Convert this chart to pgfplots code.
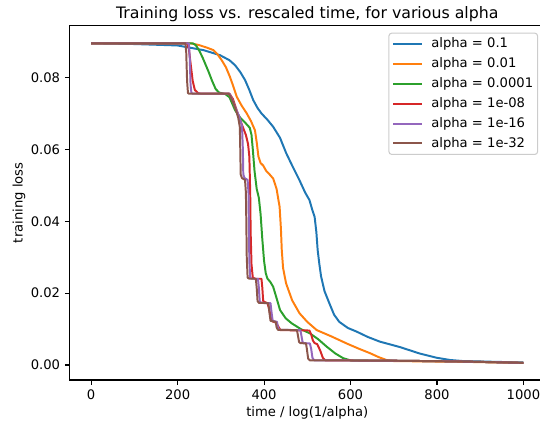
\documentclass[border=0pt]{standalone}
\usepackage{fontspec}
\setmainfont{DejaVu Sans}
\usepackage{pgfplots}
\pgfplotsset{compat=1.18}
\definecolor{c0}{HTML}{1F77B4}
\definecolor{c1}{HTML}{FF7F0E}
\definecolor{c2}{HTML}{2CA02C}
\definecolor{c3}{HTML}{D62728}
\definecolor{c4}{HTML}{9467BD}
\definecolor{c5}{HTML}{8C564B}
\begin{document}
\begin{tikzpicture}
\begin{axis}[
  at={(0,0)}, anchor=south west,
  scale only axis, width=342.4bp, height=255.1bp,
  xmin=-50, xmax=1050, ymin=-0.00417, ymax=0.0944,
  xtick={0,200,400,600,800,1000},
  ytick={0,0.02,0.04,0.06,0.08},
  scaled y ticks=false, scaled x ticks=false,
  /pgf/number format/assume math mode=true,
  /pgf/number format/1000 sep={},
  yticklabel style={/pgf/number format/.cd, fixed, fixed zerofill, precision=2},
  tick align=outside, tick pos=left, major tick length=3.3bp,
  every tick/.style={line width=0.76bp, black},
  axis line style={line width=0.76bp},
  font=\fontsize{9.5}{11}\selectfont,
  ticklabel style={font=\fontsize{9.5}{11}\selectfont},
  title={Training loss vs. rescaled time, for various alpha},
  xlabel={time / log(1/alpha)},
  ylabel={training loss},
  every axis title/.style={font=\fontsize{11.4}{13}\selectfont, at={([yshift=5.5bp]axis description cs:0.5,1)}, anchor=base},
  every axis x label/.style={font=\fontsize{9.5}{11}\selectfont, at={([yshift=-26.4bp]axis description cs:0.5,0)}, anchor=base},
  every axis y label/.style={font=\fontsize{9.5}{11}\selectfont, at={([xshift=-33.7bp]axis description cs:0,0.5)}, anchor=base, rotate=90},
  every axis plot/.append style={line width=1.42bp, line join=round},
  legend cell align=left,
  legend image code/.code={\draw[#1] (0bp,0bp) -- (20.9bp,0bp);},
  legend style={at={(axis description cs:1,1)}, anchor=north east, xshift=-5bp, yshift=-5bp,
    draw=black!20, rounded corners=2bp, line width=0.76bp,
    font=\fontsize{9.5}{11}\selectfont,
    inner xsep=2.4bp, inner ysep=2.5bp, row sep=3.5bp, column sep=5bp,
    nodes={inner sep=0.8bp, text height=7.2bp, text depth=2bp}},
]
\addplot[c0] coordinates {(0,0.0895)(100,0.0893)(200,0.0889)(260,0.0876)(298,0.0862)(320,0.0848)(333,0.0834)(345,0.0815)(356,0.0793)(366,0.0765)(375,0.0737)(385,0.0715)(394,0.0700)(408,0.0682)(421,0.0663)(437,0.0632)(451,0.0590)(465,0.0555)(482,0.0514)(495,0.0480)(505,0.0459)(512,0.0430)(517,0.0412)(521,0.0370)(524,0.0320)(528,0.0280)(532,0.0246)(540,0.0205)(551,0.0172)(562,0.0140)(574,0.0120)(594,0.0103)(614,0.0093)(640,0.0078)(668,0.0065)(714,0.0050)(760,0.0032)(800,0.0020)(830,0.0014)(860,0.0011)(1000,0.0007)};
\addlegendentry{alpha = 0.1}
\addplot[c1] coordinates {(0,0.0895)(230,0.0895)(250,0.0890)(270,0.0882)(283,0.0876)(292,0.0865)(302,0.0848)(312,0.0828)(321,0.0802)(329,0.0775)(337,0.0746)(348,0.0722)(360,0.0700)(370,0.0678)(379,0.0653)(383,0.0620)(387,0.0580)(392,0.0562)(398,0.0555)(405,0.0540)(413,0.0530)(421,0.0519)(429,0.0490)(436,0.0440)(439,0.0380)(441,0.0320)(444,0.0270)(451,0.0227)(465,0.0180)(482,0.0144)(500,0.0120)(522,0.0097)(555,0.0080)(591,0.0060)(620,0.0045)(645,0.0033)(665,0.0022)(683,0.0014)(700,0.0011)(850,0.0009)(1000,0.0006)};
\addlegendentry{alpha = 0.01}
\addplot[c2] coordinates {(0,0.0895)(235,0.0895)(242,0.0890)(250,0.0875)(258,0.0855)(265,0.0835)(272,0.0815)(280,0.0790)(288,0.0768)(296,0.0758)(310,0.0754)(320,0.0745)(333,0.0709)(345,0.0688)(358,0.0672)(367,0.0660)(371,0.0640)(374,0.0600)(378,0.0540)(383,0.0490)(388,0.0465)(392,0.0420)(396,0.0350)(400,0.0290)(404,0.0255)(408,0.0240)(414,0.0232)(421,0.0218)(428,0.0190)(437,0.0153)(450,0.0130)(464,0.0116)(485,0.0100)(506,0.0088)(525,0.0072)(545,0.0051)(565,0.0032)(583,0.0019)(600,0.0013)(700,0.0012)(850,0.0010)(1000,0.0006)};
\addlegendentry{alpha = 0.0001}
\addplot[c3] coordinates {(0,0.0895)(222,0.0895)(226,0.0880)(230,0.0840)(235,0.0790)(240,0.0765)(248,0.0756)(255,0.0755)(320,0.0755)(328,0.0740)(335,0.0715)(342,0.0690)(350,0.0665)(358,0.0640)(363,0.0615)(366,0.0580)(368,0.0480)(369,0.0370)(371,0.0280)(374,0.0243)(380,0.0240)(394,0.0240)(396,0.0215)(398,0.0178)(402,0.0175)(408,0.0172)(412,0.0155)(416,0.0130)(420,0.0121)(428,0.0118)(434,0.0105)(438,0.0097)(505,0.0096)(509,0.0085)(513,0.0068)(517,0.0061)(523,0.0058)(530,0.0040)(536,0.0020)(542,0.0013)(700,0.0012)(850,0.0010)(1000,0.0006)};
\addlegendentry{alpha = 1e-08}
\addplot[c4] coordinates {(0,0.0895)(226,0.0895)(228,0.0860)(230,0.0780)(232,0.0757)(235,0.0755)(320,0.0755)(326,0.0740)(333,0.0718)(343,0.0690)(349,0.0665)(351,0.0600)(352,0.0530)(355,0.0520)(362,0.0515)(364,0.0480)(365,0.0380)(366,0.0290)(368,0.0243)(372,0.0240)(386,0.0240)(388,0.0215)(390,0.0178)(393,0.0173)(415,0.0172)(417,0.0150)(420,0.0123)(430,0.0120)(432,0.0105)(435,0.0098)(484,0.0097)(486,0.0085)(489,0.0064)(492,0.0061)(506,0.0060)(509,0.0045)(512,0.0020)(516,0.0013)(700,0.0012)(850,0.0010)(1000,0.0006)};
\addlegendentry{alpha = 1e-16}
\addplot[c5] coordinates {(0,0.0895)(218,0.0895)(220,0.0870)(222,0.0790)(224,0.0757)(226,0.0755)(318,0.0755)(322,0.0748)(329,0.0729)(334,0.0712)(340,0.0690)(344,0.0662)(345,0.0600)(346,0.0530)(349,0.0520)(356,0.0515)(358,0.0480)(359,0.0400)(360,0.0300)(362,0.0243)(366,0.0240)(381,0.0240)(383,0.0215)(385,0.0178)(388,0.0173)(410,0.0172)(412,0.0150)(415,0.0123)(427,0.0120)(429,0.0105)(432,0.0098)(476,0.0097)(478,0.0085)(481,0.0064)(484,0.0061)(497,0.0060)(499,0.0045)(502,0.0018)(506,0.0013)(700,0.0012)(850,0.0010)(1000,0.0006)};
\addlegendentry{alpha = 1e-32}
\end{axis}
\pgfresetboundingbox
\path[use as bounding box] (-50.04bp,-32.4bp) rectangle (338.76bp,273.6bp);
\end{tikzpicture}
\end{document}
